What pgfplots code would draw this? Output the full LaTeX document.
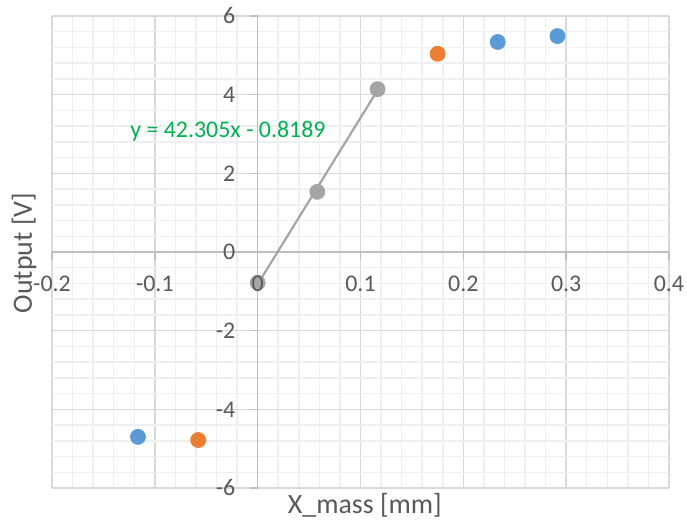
\documentclass[border=0pt]{standalone}
\usepackage{fontspec}
\setmainfont{Carlito}
\usepackage{pgfplots}
\pgfplotsset{compat=1.18}
\usetikzlibrary{calc}

\definecolor{xlblue}{HTML}{5B9BD5}
\definecolor{xlorange}{HTML}{ED7D31}
\definecolor{xlgray}{HTML}{A5A5A5}
\definecolor{xlgreen}{HTML}{00B050}
\definecolor{txtgray}{HTML}{595959}
\definecolor{gridmaj}{HTML}{D9D9D9}
\definecolor{gridmin}{HTML}{EFEFEF}
\definecolor{axgray}{HTML}{BFBFBF}

\begin{document}
\begin{tikzpicture}
  \begin{axis}[
    scale only axis,
    width=308.5bp, height=236bp,
    xmin=-0.2, xmax=0.4, ymin=-6, ymax=6,
    axis lines=middle,
    axis line style={-, draw=axgray, line width=0.75pt},
    xtick={-0.2,-0.1,0,0.1,0.2,0.3,0.4},
    ytick={-6,-4,-2,0,2,4,6},
    xticklabels={}, yticklabels={},
    minor x tick num=4, minor y tick num=4,
    grid=both,
    major grid style={draw=gridmaj, line width=0.75pt},
    minor grid style={draw=gridmin, line width=0.75pt},
    tick align=outside,
    major tick length=4bp, minor tick length=0pt,
    tick style={draw=axgray, line width=0.75pt},
    label style={font=\fontsize{14}{16}\selectfont, text=txtgray},
    xlabel={X\_mass [mm]},
    ylabel={Output [V]},
    x label style={at={(axis description cs:0.507,-0.036)}, anchor=center},
    y label style={at={(axis description cs:-0.0454,0.498)}, anchor=center, rotate=90},
    clip=false,
  ]
    % trendline of the grey series
    \addplot[draw=xlgray, line width=1.1pt, mark=none] coordinates {
      (0,-0.8189) (0.1166,4.114)
    };
    \addplot[only marks, mark=*, mark size=3.75bp, color=xlblue] coordinates {
      (-0.1164,-4.70) (0.2335,5.34) (0.2915,5.49)
    };
    \addplot[only marks, mark=*, mark size=3.75bp, color=xlorange] coordinates {
      (-0.0578,-4.78) (0.175,5.04)
    };
    \addplot[only marks, mark=*, mark size=3.75bp, color=xlgray] coordinates {
      (0,-0.78) (0.058,1.53) (0.1166,4.14)
    };
    \node[text=xlgreen, font=\fontsize{12}{14}\selectfont] at (axis cs:-0.0289,3.06) {y = 42.305x - 0.8189};
    \coordinate (orig) at (axis cs:0,0);
    \coordinate (ux) at (axis cs:0.1,0);
    \coordinate (uy) at (axis cs:0,2);
    \coordinate (bbsw) at (rel axis cs:-0.0843,-0.0763);
    \coordinate (bbne) at (rel axis cs:1.0292,1.0339);
  \end{axis}
  % tick labels next to the axis lines through the origin, as Excel sets them
  \foreach \i/\lab in {-2/-0.2,-1/-0.1,0/0,1/0.1,2/0.2,3/0.3,4/0.4}
    \node[font=\fontsize{12}{14}\selectfont, text=txtgray, inner sep=0pt, anchor=center, yshift=-16bp]
      at ($(orig)!\i!(ux)$) {\lab};
  \foreach \i/\lab in {-3/-6,-2/-4,-1/-2,0/0,1/2,2/4,3/6}
    \node[font=\fontsize{12}{14}\selectfont, text=txtgray, inner sep=0pt, anchor=east, xshift=-11bp]
      at ($(orig)!\i!(uy)$) {\lab};
  \pgfresetboundingbox
  \useasboundingbox (bbsw) rectangle (bbne);
\end{tikzpicture}
\end{document}
